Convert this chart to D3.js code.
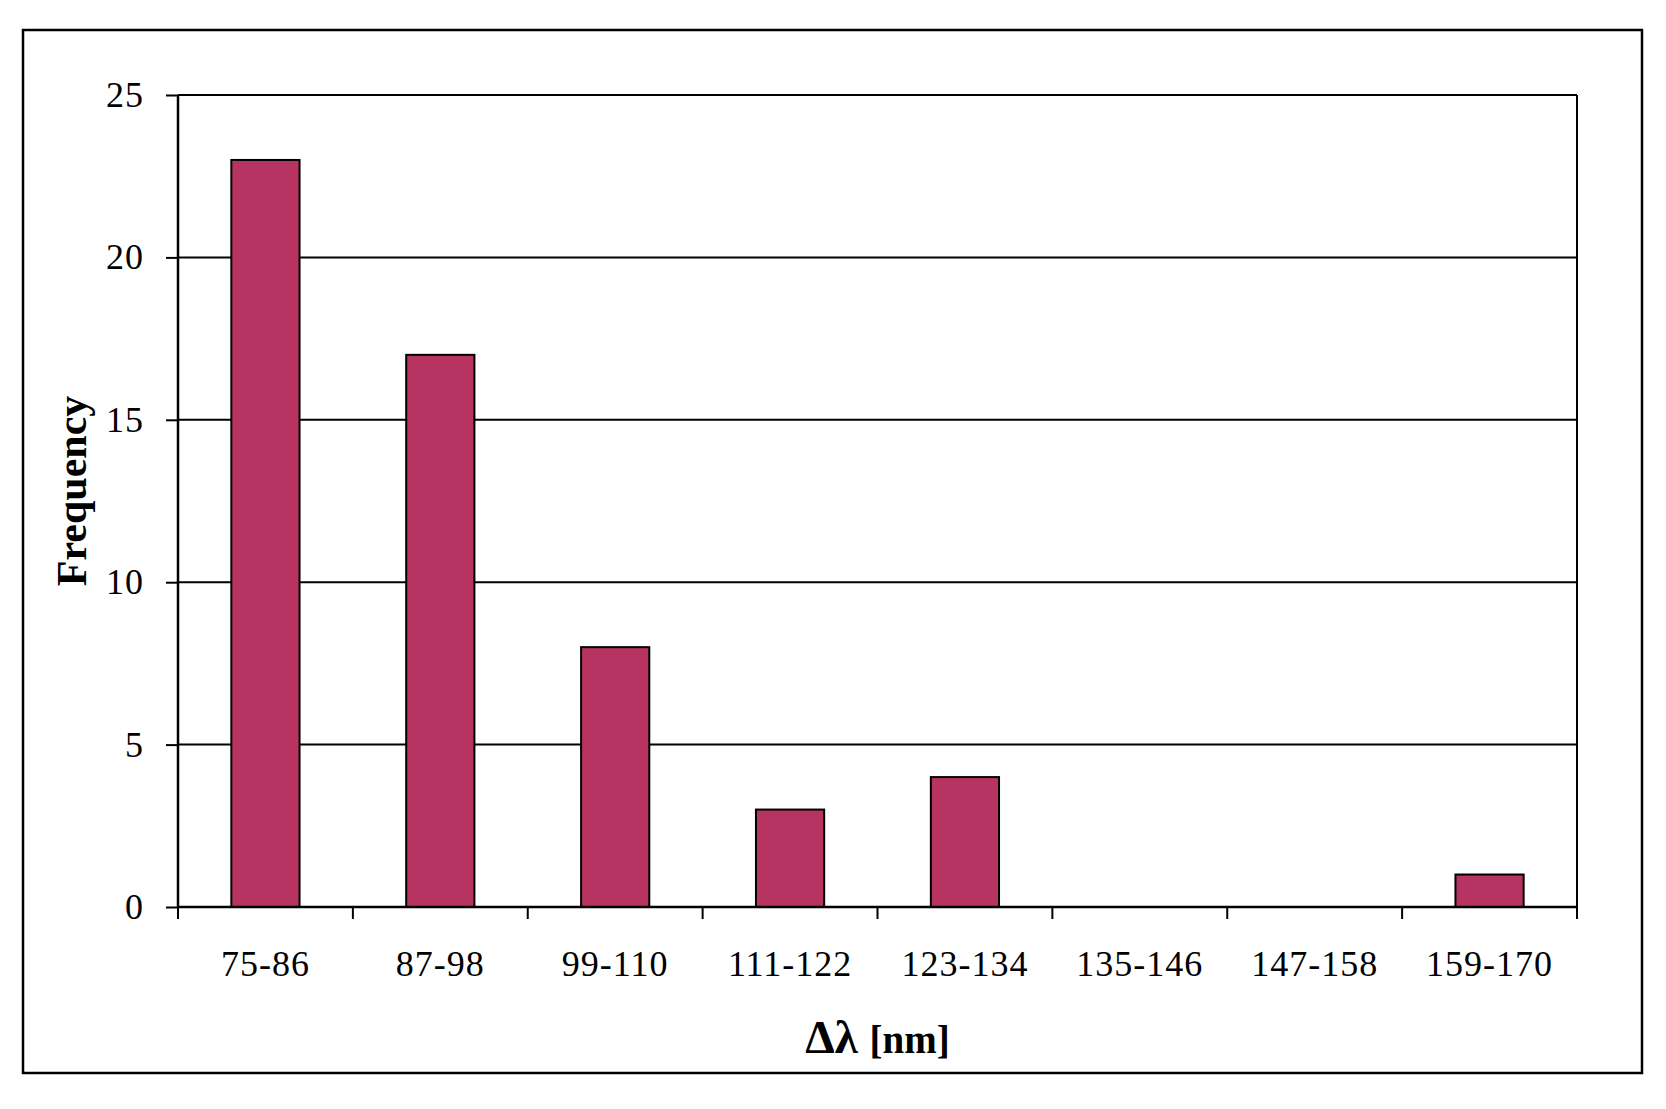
<!DOCTYPE html>
<html>
<head>
<meta charset="utf-8">
<script src="https://cdn.jsdelivr.net/npm/d3@7"></script>
<style>
  body { margin: 0; background: #fff; }
  text { font-family: "Liberation Serif", "Times New Roman", serif; fill: #000; }
</style>
</head>
<body>
<div id="chart"></div>
<script>
// bins of the wavelength shift and how many fall in each
const bins = ["75-86", "87-98", "99-110", "111-122", "123-134", "135-146", "147-158", "159-170"];
const counts = [23, 17, 8, 3, 4, 0, 0, 1];
const yTicks = [0, 5, 10, 15, 20, 25];

const W = 1666, H = 1109;
const margin = { top: 95, right: 89, bottom: 202, left: 178 };
const width = W - margin.left - margin.right,
  height = H - margin.top - margin.bottom;

const svg = d3.select("#chart").append("svg")
  .attr("width", W).attr("height", H);

// outer frame
svg.append("rect")
  .attr("x", 23).attr("y", 30)
  .attr("width", 1619).attr("height", 1043)
  .attr("fill", "none").attr("stroke", "#000").attr("stroke-width", 2.5);

const g = svg.append("g")
  .attr("transform", "translate(" + margin.left + "," + margin.top + ")");

const x = d3.scaleBand().domain(bins).range([0, width]).paddingInner(0.61).paddingOuter(0.305);
const band = d3.scaleBand().domain(bins).range([0, width]);
const y = d3.scaleLinear().domain([0, 25]).range([height, 0]);

// gridlines
g.selectAll(".grid").data(yTicks.slice(1)).enter().append("line")
  .attr("x1", 0).attr("x2", width)
  .attr("y1", d => y(d)).attr("y2", d => y(d))
  .attr("stroke", "#000").attr("stroke-width", 2);

// right border of plot
g.append("line")
  .attr("x1", width).attr("x2", width).attr("y1", 0).attr("y2", height)
  .attr("stroke", "#000").attr("stroke-width", 2);

// bars
g.selectAll(".bar").data(counts).enter().append("rect")
  .attr("x", (d, i) => x(bins[i]))
  .attr("y", d => y(d))
  .attr("width", x.bandwidth())
  .attr("height", d => height - y(d))
  .attr("fill", "#b73462")
  .attr("stroke", "#000").attr("stroke-width", 2);

// y axis
const yAxis = d3.axisLeft(y).tickValues(yTicks).tickSize(12).tickPadding(22);
const ya = g.append("g").call(yAxis);
ya.select(".domain").attr("stroke-width", 2.5).attr("d", "M0," + height + "V0");
ya.selectAll(".tick line").attr("stroke-width", 2);
ya.selectAll("text").attr("font-size", 36).attr("font-family", "Liberation Serif")
  .attr("letter-spacing", 1);

// x axis with ticks at band edges
const xa = g.append("g").attr("transform", "translate(0," + height + ")");
xa.append("line").attr("x1", 0).attr("x2", width).attr("stroke", "#000").attr("stroke-width", 2.5);
const edges = bins.map(b => band(b)).concat([width]);
xa.selectAll(".xt").data(edges).enter().append("line")
  .attr("x1", d => d).attr("x2", d => d).attr("y1", 0).attr("y2", 12)
  .attr("stroke", "#000").attr("stroke-width", 2);
xa.selectAll(".xl").data(bins).enter().append("text")
  .attr("x", d => band(d) + band.bandwidth() / 2)
  .attr("y", 69)
  .attr("text-anchor", "middle")
  .attr("font-size", 36)
  .attr("letter-spacing", 1)
  .text(d => d);

// axis titles
svg.append("text")
  .attr("transform", "translate(86," + 491 + ") rotate(-90)")
  .attr("text-anchor", "middle")
  .attr("font-size", 42).attr("font-weight", "bold")
  .text("Frequency");

const xt = svg.append("text")
  .attr("x", margin.left + width / 2).attr("y", 1053)
  .attr("text-anchor", "middle").attr("font-weight", "bold");
xt.append("tspan").attr("font-size", 47).text("Δλ ");
xt.append("tspan").attr("font-size", 39).text("[nm]");
</script>
</body>
</html>
